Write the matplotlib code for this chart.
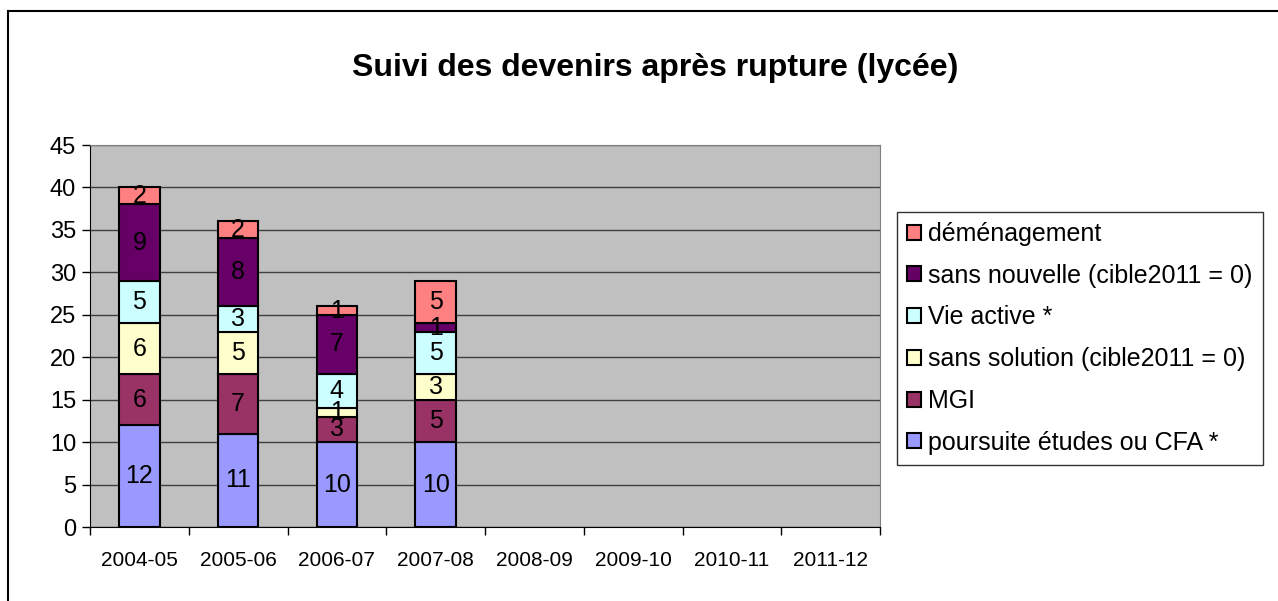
import numpy as np
import matplotlib.pyplot as plt
from matplotlib.patches import Rectangle

plt.rcParams['font.family'] = ['Liberation Sans', 'DejaVu Sans']

# ---- data ----
years = ["2004-05", "2005-06", "2006-07", "2007-08",
         "2008-09", "2009-10", "2010-11", "2011-12"]
poursuite     = [12, 11, 10, 10, 0, 0, 0, 0]
mgi           = [6, 7, 3, 5, 0, 0, 0, 0]
sans_solution = [6, 5, 1, 3, 0, 0, 0, 0]
vie_active    = [5, 3, 4, 5, 0, 0, 0, 0]
sans_nouvelle = [9, 8, 7, 1, 0, 0, 0, 0]
demenagement  = [2, 2, 1, 5, 0, 0, 0, 0]

series = [
    ("poursuite études ou CFA *", poursuite, "#9999FF"),
    ("MGI", mgi, "#993366"),
    ("sans solution (cible2011 = 0)", sans_solution, "#FFFFCC"),
    ("Vie active *", vie_active, "#CCFFFF"),
    ("sans nouvelle (cible2011 = 0)", sans_nouvelle, "#660066"),
    ("déménagement", demenagement, "#FF8080"),
]

fig = plt.figure(figsize=(12.78, 6.01), dpi=100)
ax = fig.add_axes([90 / 1278, 1 - 527 / 601, 790 / 1278, 382 / 601])
ax.set_facecolor("#C0C0C0")

# outer chart frame (only top/left visible)
fig.patches.append(Rectangle((8 / 1278, -0.1), 1.2, 1 - 11 / 601 + 0.1,
                             transform=fig.transFigure, fill=False,
                             edgecolor="black", linewidth=1.5))

x = np.arange(len(years))
bottom = np.zeros(len(years))
handles = []
for name, vals, color in series:
    vals = np.array(vals, dtype=float)
    keep = vals > 0
    bars = ax.bar(x[keep], vals[keep], width=0.41, bottom=bottom[keep],
                  color=color, edgecolor="black", linewidth=1.5, zorder=3,
                  label=name)
    handles.append(bars)
    for xi, v, b in zip(x[keep], vals[keep], bottom[keep]):
        ax.text(xi, b + v / 2, f"{int(v)}", ha="center", va="center",
                fontsize=18, color="black", zorder=4)
    bottom += vals

ax.set_xlim(-0.5, len(years) - 0.5)
ax.set_ylim(0, 45)
ax.set_yticks(np.arange(0, 46, 5))
ax.yaxis.grid(True, color="#404040", linewidth=1, zorder=1)
ax.set_axisbelow(True)

ax.set_xticks(x)
ax.set_xticklabels(years, fontsize=15)
ax.set_xticks(np.arange(-0.5, len(years), 1), minor=True)
ax.tick_params(axis="x", which="major", length=0, pad=17)
ax.tick_params(axis="x", which="minor", length=6, width=1, color="black")
ax.tick_params(axis="y", labelsize=17, length=6, width=1, pad=4)

ax.spines["left"].set_color("black")
ax.spines["bottom"].set_color("black")
ax.spines["top"].set_color("#808080")
ax.spines["right"].set_color("#808080")

fig.text(655 / 1278, 1 - 68 / 601, "Suivi des devenirs après rupture (lycée)",
         fontsize=23, fontweight="bold", ha="center", va="center")

leg = fig.legend(handles[::-1], [s[0] for s in series][::-1],
                 loc="upper left", bbox_to_anchor=(897 / 1278, 1 - 212 / 601),
                 fontsize=18, frameon=True, fancybox=False,
                 edgecolor="black", handlelength=0.55, handleheight=0.55,
                 handletextpad=0.3, labelspacing=0.71, borderpad=0.4,
                 borderaxespad=0)
leg.get_frame().set_linewidth(1)

fig.savefig("out.png", dpi=100)
